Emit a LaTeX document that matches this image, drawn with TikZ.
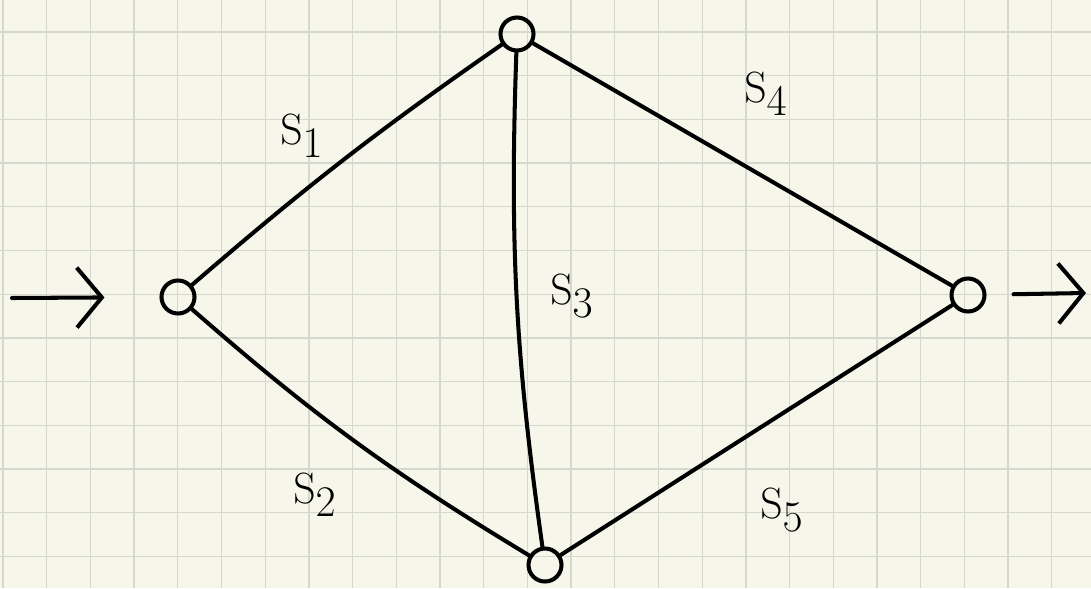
\documentclass[tikz,border=0pt]{standalone}
\usetikzlibrary{arrows.meta}
\definecolor{paper}{HTML}{F7F6EB}
\definecolor{gridgray}{HTML}{D6D7CD}
\begin{document}
\begin{tikzpicture}[x=0.2mm, y=-0.2mm, line width=2.3pt, line cap=round, line join=round,
    vertex/.style={circle, draw, minimum size=6.6mm, inner sep=0pt},
    edgelabel/.style={font=\fontsize{40}{44}\selectfont},
    gridline/.style={line width=0.7pt, line cap=butt, draw=gridgray},
    flow/.style={-{Straight Barb[length=5mm,width=12mm]}}]
  \useasboundingbox (0,0) rectangle (1091,588);
  \fill[paper] (0,0) rectangle (1091,588);
  % squared paper
  \foreach \i in {0,...,24}
    \draw[gridline] ({3+43.7*\i},0) -- ({3+43.7*\i},588);
  \foreach \j in {0,...,12}
    \draw[gridline] (0,{32+43.7*\j}) -- (1091,{32+43.7*\j});
  % vertices
  \node[vertex] (src) at (178,297) {};
  \node[vertex] (top) at (517,34) {};
  \node[vertex] (bot) at (545,565) {};
  \node[vertex] (snk) at (968,295) {};
  % edges
  \draw (src) to[bend left=3] (top);
  \draw (src) to[bend right=5] (bot);
  \draw (top) to[bend right=5] (bot);
  \draw (top) -- (snk);
  \draw (bot) -- (snk);
  % in and out
  \coordinate (in) at (12,298);
  \coordinate (out) at (1086,293);
  \draw[flow, shorten >=11mm] (in) -- (src);
  \draw[flow, shorten <=5.4mm] (snk) -- (out);
  % labels
  \node[edgelabel] (l1) at (302,136) {$\mathrm{S}_1$};
  \node[edgelabel] (l2) at (315,495) {$\mathrm{S}_2$};
  \node[edgelabel] (l3) at (572,296) {$\mathrm{S}_3$};
  \node[edgelabel] (l4) at (766,94) {$\mathrm{S}_4$};
  \node[edgelabel] (l5) at (782,510) {$\mathrm{S}_5$};
\end{tikzpicture}
\end{document}
